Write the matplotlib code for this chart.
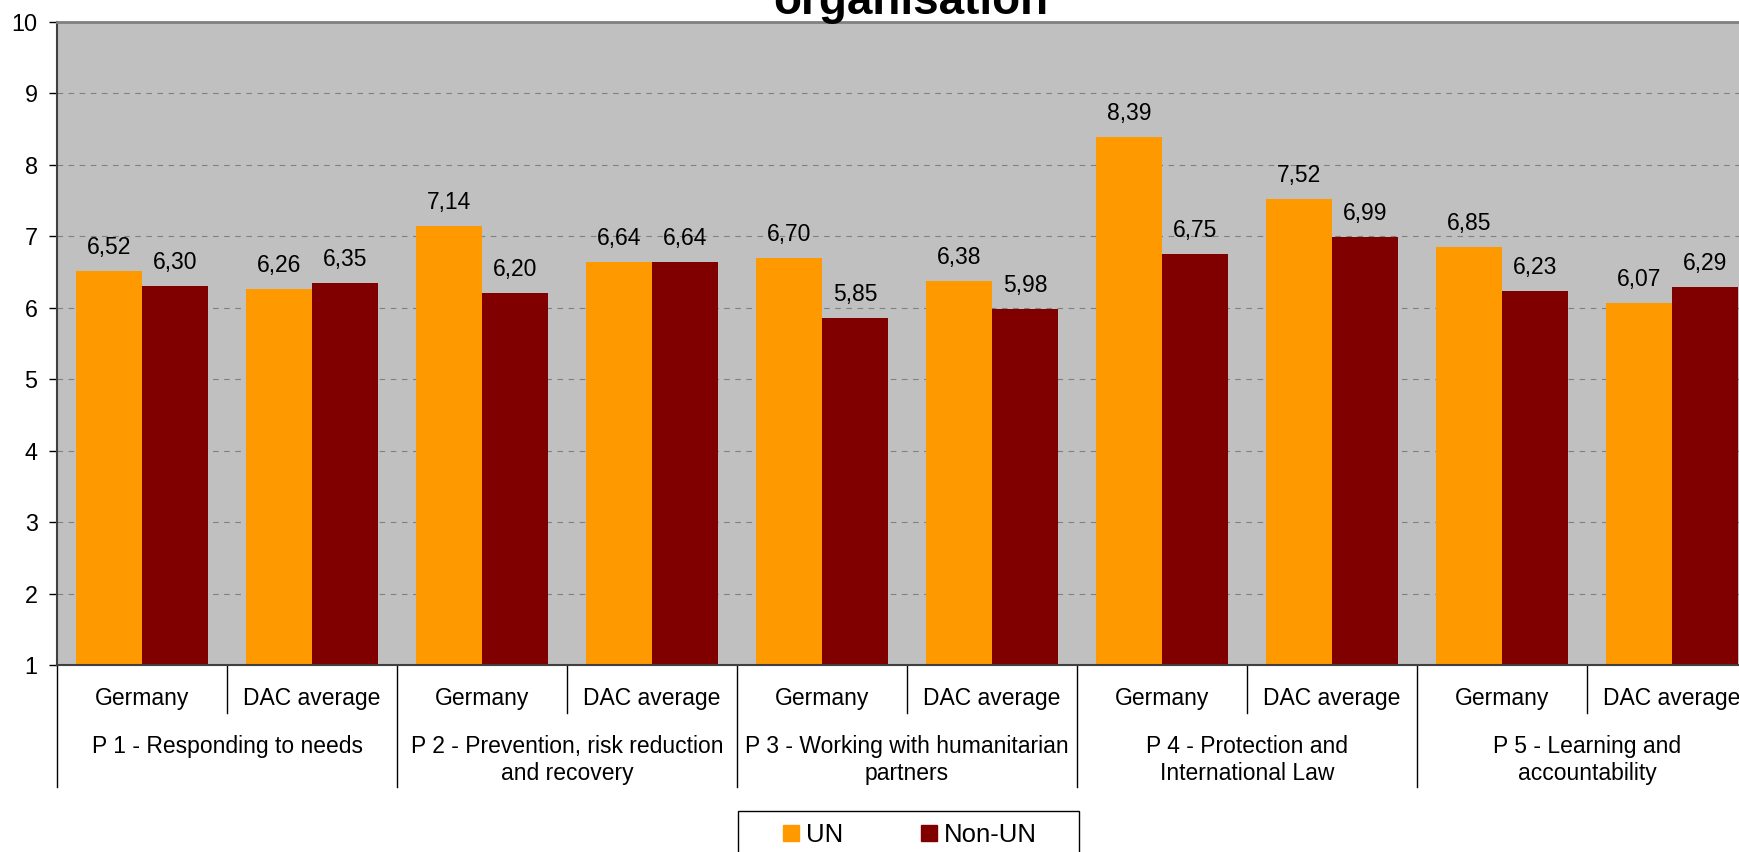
import matplotlib.pyplot as plt
import matplotlib.patches as mpatches
import numpy as np

plt.rcParams['font.family'] = ['Liberation Sans', 'DejaVu Sans']

# == Data ===================================================
pillars = ['P 1 - Responding to needs',
           'P 2 - Prevention, risk reduction\nand recovery',
           'P 3 - Working with humanitarian\npartners',
           'P 4 - Protection and\nInternational Law',
           'P 5 - Learning and\naccountability']
donors = ['Germany', 'DAC average']
un_vals = [6.52, 6.26, 7.14, 6.64, 6.70, 6.38, 8.39, 7.52, 6.85, 6.07]
non_un_vals = [6.30, 6.35, 6.20, 6.64, 5.85, 5.98, 6.75, 6.99, 6.23, 6.29]
series_names = ['UN', 'Non-UN']
colors = ['#FF9900', '#800000']
# ===========================================================

W, H = 1740, 852
fig = plt.figure(figsize=(W / 100, H / 100), dpi=100)
# plot area in pixels: x 57..1757, y 22..665 (runs past right edge)
ax = fig.add_axes([57 / W, 1 - 665 / H, 1700 / W, 643 / H])
ax.set_facecolor('#C0C0C0')

x = np.arange(len(un_vals))
bw = 0.388
bars_un = ax.bar(x - bw / 2, un_vals, bw, bottom=0, color=colors[0], zorder=2)
bars_non = ax.bar(x + bw / 2, non_un_vals, bw, bottom=0, color=colors[1], zorder=2)

ax.set_xlim(-0.5, len(un_vals) - 0.5)
ax.set_ylim(1, 10)
ax.set_yticks(range(1, 11))
ax.tick_params(axis='y', labelsize=16.8, length=6, width=1, pad=8, color='black')
ax.yaxis.grid(True, color='#808080', linestyle=(0, (5, 5)), linewidth=0.8, zorder=1)
ax.set_axisbelow(True)
ax.set_xticks([])

ax.spines['right'].set_visible(False)
ax.spines['top'].set_color('#808080')
ax.spines['top'].set_linewidth(2)
ax.spines['left'].set_color('#404040')
ax.spines['left'].set_linewidth(1.5)
ax.spines['bottom'].set_color('#404040')
ax.spines['bottom'].set_linewidth(1.5)

# value labels
for rects, vals in [(bars_un, un_vals), (bars_non, non_un_vals)]:
    for r, v in zip(rects, vals):
        ax.annotate(f'{v:.2f}'.replace('.', ','),
                    (r.get_x() + r.get_width() / 2, v),
                    xytext=(0, 17), textcoords='offset points',
                    ha='center', va='center', fontsize=16.5)

# two-level category axis
tr = ax.get_xaxis_transform()
axh = 643.0
for i in range(len(un_vals)):
    ax.text(i, -(699 - 665) / axh, donors[i % 2], transform=tr,
            ha='center', va='center', fontsize=16.5)
for i in range(0, len(un_vals), 2):
    ax.plot([i + 0.5, i + 0.5], [0, -(713 - 665) / axh], transform=tr,
            color='black', lw=1, clip_on=False)
for g in range(len(pillars) + 1):
    xb = 2 * g - 0.5
    ax.plot([xb, xb], [0, -(787 - 665) / axh], transform=tr,
            color='black', lw=1, clip_on=False)
for g, name in enumerate(pillars):
    ax.text(2 * g + 0.5, -(735 - 665) / axh, name, transform=tr,
            ha='center', va='top', fontsize=16.5, linespacing=1.2,
            multialignment='center')

# title (partly off the top of the canvas)
fig.text(911 / W, 1 - 14 / H, 'organisation', ha='center', va='baseline',
         fontsize=33, fontweight='bold')

# legend with its own frame
fig.patches.append(mpatches.Rectangle((738 / W, 1 - 870 / H), 341 / W, 59 / H,
                                      transform=fig.transFigure, fill=False,
                                      edgecolor='black', lw=1))
handles = [mpatches.Patch(color=c, label=n) for c, n in zip(colors, series_names)]
fig.legend(handles=handles, loc='center', bbox_to_anchor=(910 / W, 1 - 835 / H),
           ncol=2, frameon=False, fontsize=18.5, handlelength=0.62,
           handleheight=0.62, handletextpad=0.27, columnspacing=3.0,
           borderpad=0)

fig.savefig('out.png', dpi=100)
